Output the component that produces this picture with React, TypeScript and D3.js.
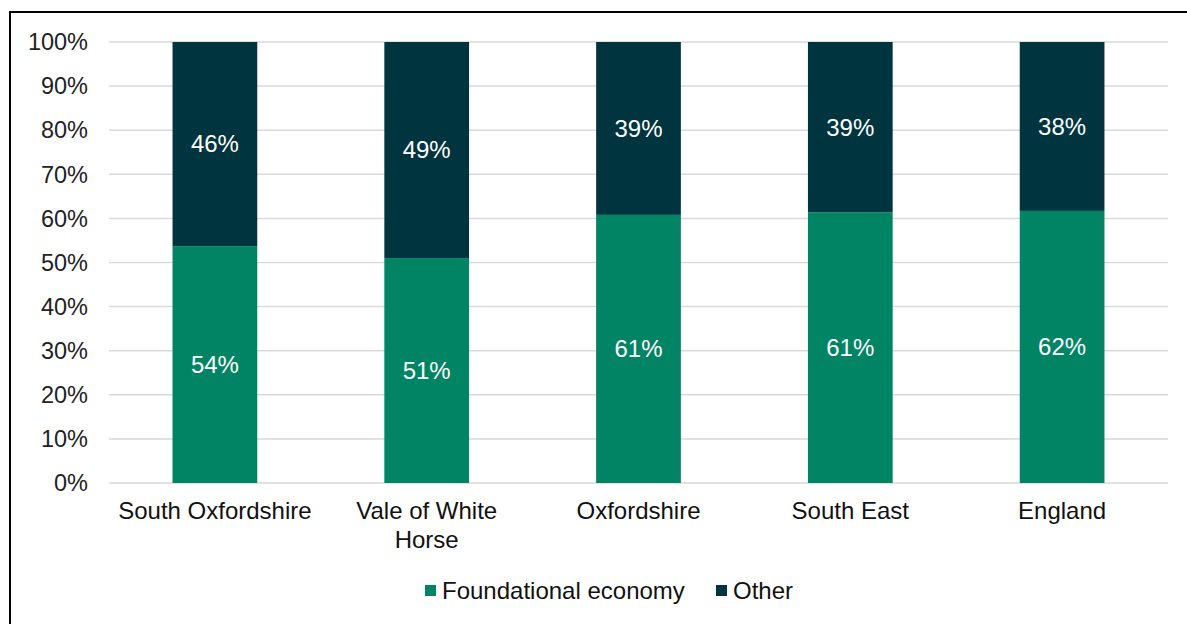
import React from "react";
import * as d3 from "d3";

const categories = ["South Oxfordshire", "Vale of White Horse", "Oxfordshire", "South East", "England"];
const categoryLines = [["South Oxfordshire"], ["Vale of White", "Horse"], ["Oxfordshire"], ["South East"], ["England"]];
const foundational = [53.7, 51.0, 60.8, 61.4, 61.7];
const other = [46.3, 49.0, 39.2, 38.6, 38.3];
const foundationalLabels = ["54%", "51%", "61%", "61%", "62%"];
const otherLabels = ["46%", "49%", "39%", "39%", "38%"];
const yTicks = [0, 10, 20, 30, 40, 50, 60, 70, 80, 90, 100];
const seriesNames = ["Foundational economy", "Other"];

const W = 1187, H = 624;
const GREEN = "#008464";
const DARK = "#00343E";
const FONT = "'Liberation Sans', Arial, sans-serif";

export default function App() {
  const x = d3.scaleBand<string>().domain(categories).range([109, 1168]).paddingInner(0.6).paddingOuter(0.3);
  const y = d3.scaleLinear().domain([0, 100]).range([483, 42]);
  const bw = x.bandwidth();
  return (
    <svg width={W} height={H} style={{ position: "absolute", left: 0, top: 0, display: "block" }}>
      <rect x={0} y={0} width={W} height={H} fill="#fff" />
      <path d={`M10,${H + 5} L10,12 L${W + 5},12`} fill="none" stroke="#000" strokeWidth={2} />
      {yTicks.map((t) => (
        <g key={t}>
          <line x1={109} x2={1168} y1={y(t)} y2={y(t)} stroke="#d9d9d9" strokeWidth={1.5} />
          <text x={88} y={y(t)} dy="0.35em" textAnchor="end" fontFamily={FONT} fontSize={23.5} fill="#222">
            {t}%
          </text>
        </g>
      ))}
      {categories.map((c, i) => {
        const x0 = x(c)!;
        const f = foundational[i];
        const o = other[i];
        return (
          <g key={c}>
            <rect x={x0} width={bw} y={y(f)} height={y(0) - y(f)} fill={GREEN} />
            <rect x={x0} width={bw} y={y(f + o)} height={y(f) - y(f + o)} fill={DARK} />
            <text x={x0 + bw / 2} y={y(f / 2)} dy="0.35em" textAnchor="middle" fontFamily={FONT} fontSize={24} fill="#fff">
              {foundationalLabels[i]}
            </text>
            <text x={x0 + bw / 2} y={y(f + o / 2)} dy="0.35em" textAnchor="middle" fontFamily={FONT} fontSize={24} fill="#fff">
              {otherLabels[i]}
            </text>
            {categoryLines[i].map((line, j) => (
              <text key={j} x={x0 + bw / 2} y={518.5 + j * 29.5} textAnchor="middle" fontFamily={FONT} fontSize={24} fill="#111">
                {line}
              </text>
            ))}
          </g>
        );
      })}
      <g>
        <rect x={425} y={585} width={11} height={11} fill={GREEN} />
        <text x={442} y={599} fontFamily={FONT} fontSize={24} fill="#111">{seriesNames[0]}</text>
        <rect x={716} y={585} width={11} height={11} fill={DARK} />
        <text x={733} y={599} fontFamily={FONT} fontSize={24} fill="#111">{seriesNames[1]}</text>
      </g>
    </svg>
  );
}
